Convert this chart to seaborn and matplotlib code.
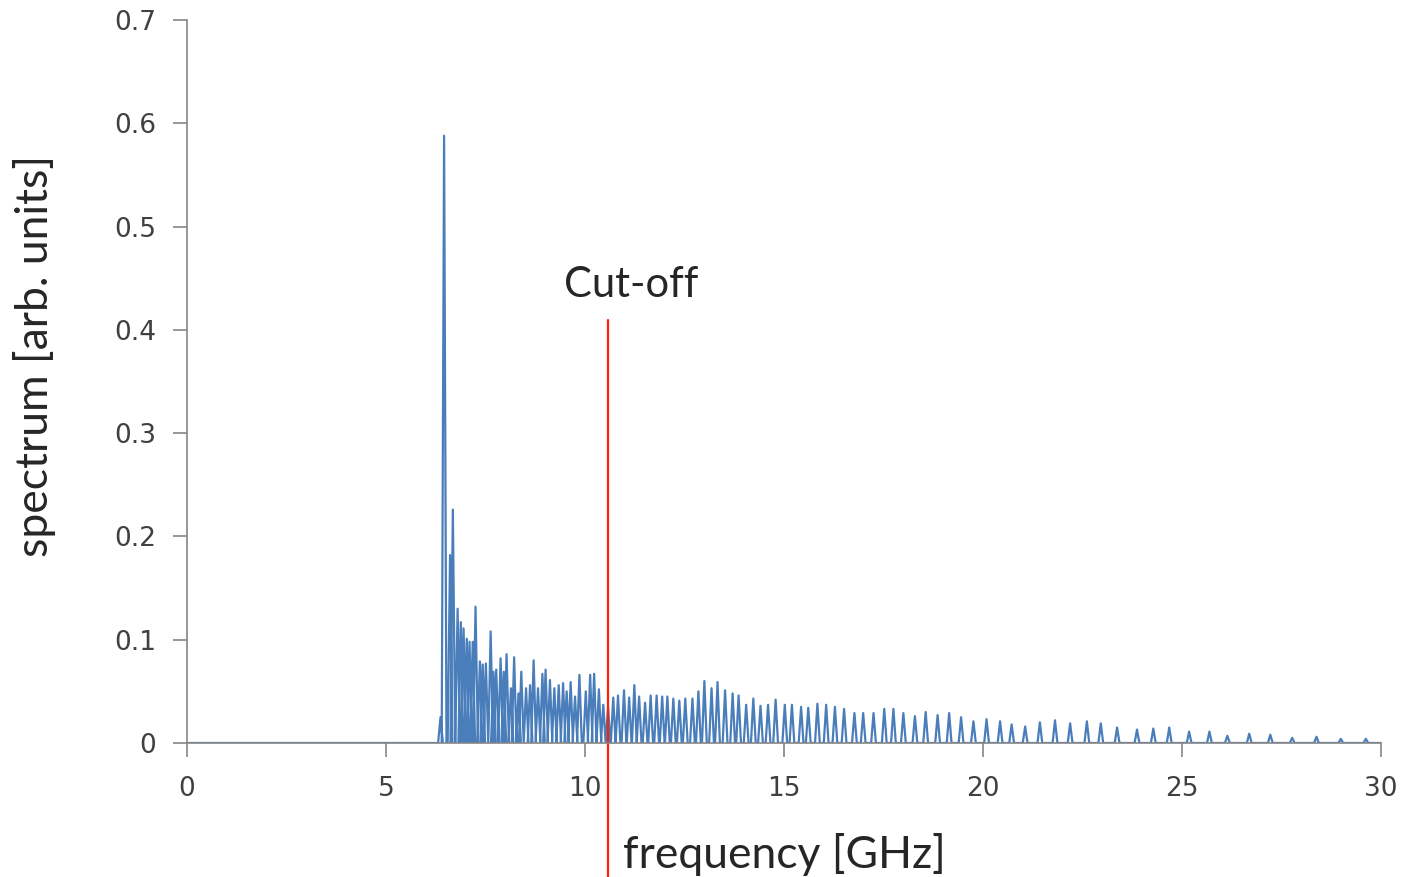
import numpy as np
import pandas as pd
import matplotlib
matplotlib.use("Agg")
import matplotlib.pyplot as plt
import seaborn as sns

# peak positions [GHz] and heights
peak_freq = [6.37, 6.46, 6.61, 6.68, 6.80, 6.88, 6.95, 7.03, 7.10, 7.18,
             7.25, 7.36, 7.43, 7.51, 7.63, 7.70, 7.77, 7.88, 7.96, 8.03,
             8.14, 8.22, 8.33, 8.40, 8.52, 8.62, 8.71, 8.82, 8.93, 9.01,
             9.12, 9.23, 9.34, 9.45, 9.54, 9.64, 9.75, 9.86, 10.02, 10.13,
             10.23, 10.35, 10.46, 10.58, 10.71, 10.83, 10.98, 11.11, 11.24, 11.36,
             11.51, 11.65, 11.80, 11.94, 12.07, 12.22, 12.37, 12.52, 12.70, 12.85,
             13.00, 13.18, 13.33, 13.52, 13.71, 13.86, 14.05, 14.23, 14.41, 14.60,
             14.79, 15.02, 15.20, 15.43, 15.61, 15.84, 16.06, 16.28, 16.51, 16.77,
             16.99, 17.25, 17.52, 17.75, 18.00, 18.29, 18.56, 18.86, 19.15, 19.45,
             19.76, 20.09, 20.43, 20.72, 21.06, 21.43, 21.81, 22.19, 22.61, 22.96,
             23.37, 23.87, 24.28, 24.68, 25.18, 25.69, 26.14, 26.69, 27.22, 27.77,
             28.38, 28.99, 29.62]
peak_height = [0.025, 0.588, 0.182, 0.226, 0.130, 0.117, 0.111, 0.101, 0.098, 0.098,
               0.132, 0.079, 0.076, 0.077, 0.108, 0.069, 0.071, 0.082, 0.069, 0.086,
               0.053, 0.083, 0.048, 0.069, 0.053, 0.056, 0.080, 0.053, 0.067, 0.071,
               0.061, 0.053, 0.056, 0.058, 0.050, 0.059, 0.045, 0.066, 0.050, 0.066,
               0.067, 0.052, 0.037, 0.035, 0.044, 0.046, 0.051, 0.044, 0.056, 0.045,
               0.039, 0.046, 0.046, 0.045, 0.045, 0.043, 0.041, 0.043, 0.043, 0.050,
               0.060, 0.053, 0.059, 0.051, 0.048, 0.046, 0.037, 0.043, 0.036, 0.037,
               0.042, 0.037, 0.037, 0.035, 0.034, 0.038, 0.037, 0.035, 0.033, 0.029,
               0.029, 0.029, 0.033, 0.033, 0.029, 0.026, 0.030, 0.027, 0.029, 0.025,
               0.021, 0.023, 0.021, 0.018, 0.016, 0.020, 0.022, 0.019, 0.021, 0.019,
               0.015, 0.013, 0.014, 0.015, 0.011, 0.011, 0.007, 0.009, 0.008, 0.005,
               0.006, 0.004, 0.004]
cutoff = 10.59
x_ticks = [0, 5, 10, 15, 20, 25, 30]
y_ticks = [0, 0.1, 0.2, 0.3, 0.4, 0.5, 0.6, 0.7]

# spike trace: each peak drawn as a narrow spike on a zero baseline
w = 0.06
fx, fy = [0.0], [0.0]
for f, h in zip(peak_freq, peak_height):
    fx += [f - w, f, f + w]
    fy += [0.0, h, 0.0]
fx.append(30.0)
fy.append(0.0)
df = pd.DataFrame({"freq": fx, "spec": fy})

sns.set_style("ticks")
plt.rcParams['font.family'] = ['DejaVu Sans']

fig = plt.figure(figsize=(14.08, 8.77), dpi=100)
ax = fig.add_axes([0.1328, 0.1528, 0.848, 0.8244])

sns.lineplot(data=df, x="freq", y="spec", sort=False, estimator=None,
             color="#4a7ebb", linewidth=1.6, ax=ax)

ax.axvline(cutoff, ymin=-0.185, ymax=0.585, color="#ff2200", linewidth=1.6, clip_on=False)
ax.text(9.48, 0.443, "Cut-off", fontsize=30, family="Lato", va="center", ha="left")

ax.set_xlim(0, 30)
ax.set_ylim(0, 0.7)
ax.set_xticks(x_ticks)
ax.set_yticks(y_ticks)
ax.set_yticklabels([f"{v:g}" for v in y_ticks])
ax.tick_params(axis="both", direction="out", length=10, width=1.2, color="#868686",
               labelsize=19, labelcolor="#404040", bottom=True, left=True)
ax.tick_params(axis="x", pad=14)
ax.tick_params(axis="y", pad=12)

for s in ["top", "right"]:
    ax.spines[s].set_visible(False)
for s in ["left", "bottom"]:
    ax.spines[s].set_color("#868686")
    ax.spines[s].set_linewidth(1.2)

ax.set_xlabel("frequency [GHz]", fontsize=32, family="Lato", labelpad=22)
ax.set_ylabel("spectrum [arb. units]", fontsize=32, family="Lato")
ax.yaxis.set_label_coords(-0.11, 0.535)

fig.savefig("out.png", dpi=100)
